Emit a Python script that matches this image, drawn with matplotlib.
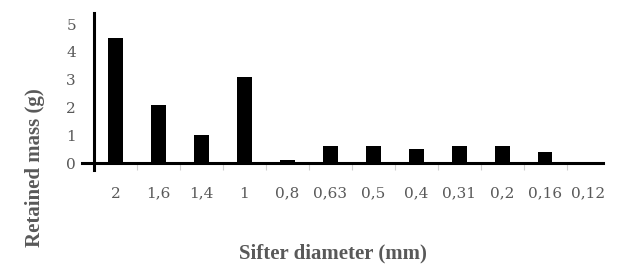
import numpy as np
import matplotlib
matplotlib.use('Agg')
import matplotlib.pyplot as plt

# sieve openings (mm) and retained mass (g)
sizes = ['2', '1,6', '1,4', '1', '0,8', '0,63', '0,5', '0,4', '0,31', '0,2', '0,16', '0,12']
mass = [4.5, 2.1, 1.0, 3.1, 0.1, 0.6, 0.6, 0.5, 0.6, 0.6, 0.4, 0.0]
yticks = [0, 1, 2, 3, 4, 5]

grey = '#595959'
W, H = 631, 270

fig = plt.figure(figsize=(W / 100, H / 100), dpi=100)
ax = fig.add_axes([82 / W, 1 - 170 / H, (603 - 82) / W, (170 - 13) / H])

x = np.arange(len(sizes))
ax.bar(x, mass, width=0.33, color='black', zorder=3)

ax.set_xlim(-0.78, 11.34)
ax.set_ylim(-0.25, 5.4)

for s in ['top', 'right']:
    ax.spines[s].set_visible(False)
ax.spines['left'].set_position(('data', -0.5))
ax.spines['bottom'].set_position(('data', 0))
ax.spines['left'].set_linewidth(2.2)
ax.spines['bottom'].set_linewidth(2.2)

ax.set_xticks(x)
ax.set_xticklabels(sizes)
ax.set_xticks(np.arange(0.5, 11, 1), minor=True)
ax.tick_params(axis='x', which='major', length=0, pad=17,
               labelsize=11, labelcolor=grey)
ax.tick_params(axis='x', which='minor', length=5, width=0.8,
               color='#d0d0d0', direction='out')
ax.set_yticks(yticks)
ax.tick_params(axis='y', length=0, pad=13, labelsize=11, labelcolor=grey)
for lab in ax.get_xticklabels() + ax.get_yticklabels():
    lab.set_family('DejaVu Serif')

fig.text(35 / W, 1 - 168 / H, 'Retained mass (g)', rotation=90,
         ha='center', va='center', fontsize=15, fontweight='bold',
         color=grey, family='Liberation Serif')
fig.text(333 / W, 1 - 253 / H, 'Sifter diameter (mm)',
         ha='center', va='center', fontsize=15, fontweight='bold',
         color=grey, family='Liberation Serif')

fig.savefig('out.png', dpi=100)
